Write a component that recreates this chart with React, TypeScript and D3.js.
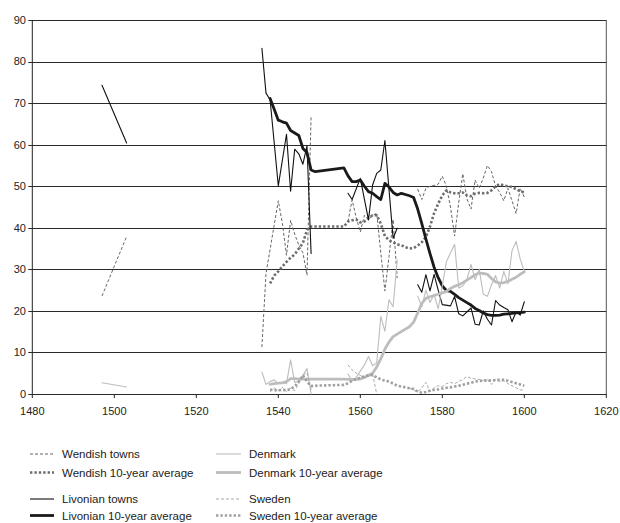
import React from 'react';
import * as d3 from 'd3';

type Pt = [number, number];

const xTicks = [1480, 1500, 1520, 1540, 1560, 1580, 1600, 1620];
const yTicks = [0, 10, 20, 30, 40, 50, 60, 70, 80, 90];

const wendishTowns: Pt[][] = [
  [[1497, 23.6], [1503, 37.9]],
  [[1536, 11.3], [1537, 29], [1540, 46.5], [1541, 41], [1542, 33.4], [1543, 41.8], [1544, 38.5], [1545, 35.8], [1546, 34], [1547, 28.6], [1548, 66.9]],
  [[1557, 41.5], [1558, 46.7], [1559, 42.5], [1560, 39], [1561, 43], [1562, 42], [1563, 43], [1564, 43.5], [1565, 34], [1566, 24.8], [1567, 33], [1568, 42], [1569, 27.9]],
  [[1574, 49.3], [1575, 46.8], [1576, 49.5], [1577, 50], [1578, 50.2], [1579, 50.5], [1580, 52.4], [1581, 50], [1582, 45], [1583, 38], [1584, 46], [1585, 53], [1586, 47], [1587, 44.5], [1588, 51.5], [1589, 49.5], [1590, 52], [1591, 55], [1592, 53.5], [1593, 50], [1594, 48.5], [1595, 46.5], [1596, 49.5], [1597, 46.5], [1598, 43.4], [1599, 49.5], [1600, 47.4]],
];

const wendishAvg: Pt[][] = [
  [[1538, 26.6], [1539, 28.5], [1540, 29.5], [1541, 30.7], [1542, 31.8], [1543, 32.8], [1544, 33.6], [1545, 35], [1546, 36.3], [1547, 39.5], [1548, 40.3], [1549, 40.3], [1556, 40.3], [1557, 41.5], [1558, 41.8], [1559, 42], [1560, 41.3], [1561, 41.5], [1562, 42.3], [1563, 43], [1564, 43], [1565, 41], [1566, 38], [1567, 37], [1568, 36.5], [1569, 36], [1570, 35.8], [1571, 35.3], [1572, 35], [1573, 35.1], [1574, 35.7], [1575, 36.5], [1576, 37.8], [1577, 40.3], [1578, 43.5], [1579, 45.8], [1580, 47.8], [1581, 49], [1582, 48.5], [1583, 48.3], [1584, 48.3], [1585, 48.5], [1586, 47.8], [1587, 47.6], [1588, 48.2], [1589, 48.4], [1590, 48.3], [1591, 48.4], [1592, 49], [1593, 50], [1594, 50.5], [1595, 50.2], [1596, 50], [1597, 49.8], [1598, 49.3], [1599, 48.8], [1600, 48.5]],
];

const livonianTowns: Pt[][] = [
  [[1497, 74.3], [1503, 60.4]],
  [[1536, 83.2], [1537, 72.4], [1538, 70.8], [1540, 50.1], [1542, 62.5], [1543, 48.8], [1544, 58.9], [1545, 57.8], [1546, 55.3], [1547, 59.7], [1548, 33.8]],
  [[1557, 48.3], [1558, 46.8], [1560, 51.9], [1562, 41.9], [1563, 50.3], [1564, 53.1], [1565, 53.9], [1566, 61], [1568, 37.5], [1569, 39.9]],
  [[1574, 26.3], [1575, 24.5], [1576, 28.7], [1577, 24.8], [1578, 28.8], [1579, 25], [1580, 21.5], [1582, 21.2], [1583, 23.5], [1584, 19.3], [1585, 18.8], [1587, 20.7], [1588, 16.8], [1589, 16.6], [1590, 20], [1591, 18], [1592, 16.6], [1593, 22.5], [1594, 21.4], [1595, 20.8], [1596, 20.3], [1597, 17.4], [1598, 19.8], [1599, 19], [1600, 22.2]],
];

const livonianAvg: Pt[][] = [
  [[1538, 71.1], [1539, 68.5], [1540, 65.9], [1541, 65.5], [1542, 65.2], [1543, 63.4], [1544, 62.8], [1545, 62.2], [1546, 59.1], [1547, 58.1], [1548, 53.9], [1549, 53.5], [1556, 54.4], [1557, 52.5], [1558, 51.1], [1559, 51.1], [1560, 51.5], [1561, 50], [1562, 48.7], [1563, 48.3], [1564, 47.5], [1565, 46.8], [1566, 50.7], [1567, 49.8], [1568, 48.5], [1569, 47.9], [1570, 48.3], [1571, 48], [1572, 47.7], [1573, 47.3], [1574, 44.5], [1575, 41], [1576, 37.3], [1577, 33.8], [1578, 30.5], [1579, 28], [1580, 26], [1581, 24.9], [1582, 24.7], [1583, 24], [1584, 23.2], [1585, 22.6], [1586, 22], [1587, 21.4], [1588, 20.6], [1589, 20.1], [1590, 19.5], [1591, 19.1], [1592, 18.9], [1593, 18.9], [1594, 19], [1595, 19.2], [1596, 19.3], [1597, 19.4], [1598, 19.5], [1599, 19.6], [1600, 19.7]],
];

const denmark: Pt[][] = [
  [[1497, 2.7], [1503, 1.7]],
  [[1536, 5.3], [1537, 2.3], [1538, 3], [1539, 3.4], [1540, 2.5], [1541, 2.8], [1542, 2.5], [1543, 8.2], [1544, 2.8], [1545, 3], [1546, 4.5], [1547, 6.1], [1548, 0]],
  [[1557, 4.8], [1558, 3.1], [1559, 4], [1560, 5.5], [1561, 7], [1562, 9], [1563, 6.8], [1564, 7.5], [1565, 18.7], [1566, 15.1], [1567, 22.7], [1568, 21], [1569, 32.3]],
  [[1574, 23.5], [1575, 21], [1576, 25], [1577, 22], [1578, 24], [1579, 20.5], [1580, 26], [1581, 31.8], [1582, 34], [1583, 36], [1584, 25.5], [1585, 26], [1586, 27.5], [1587, 31.2], [1588, 27.5], [1589, 30], [1590, 24], [1591, 23.5], [1592, 26.3], [1593, 28.5], [1594, 25.5], [1595, 29.5], [1596, 26.5], [1597, 34.5], [1598, 36.7], [1599, 32.5], [1600, 29.5]],
];

const denmarkAvg: Pt[][] = [
  [[1538, 2.3], [1539, 2.5], [1540, 2.6], [1541, 2.7], [1542, 3], [1543, 3.7], [1544, 3.7], [1545, 3.6], [1546, 3.6], [1547, 3.6], [1548, 3.6], [1549, 3.6], [1556, 3.6], [1557, 3.5], [1558, 3.5], [1559, 3.5], [1560, 3.6], [1561, 4], [1562, 4.5], [1563, 5], [1564, 6.5], [1565, 8.5], [1566, 10.8], [1567, 12.5], [1568, 13.8], [1569, 14.4], [1570, 15], [1571, 15.6], [1572, 16.2], [1573, 17.3], [1574, 19.5], [1575, 21.8], [1576, 23], [1577, 23.4], [1578, 23.7], [1579, 24], [1580, 24.3], [1581, 24.7], [1582, 25.4], [1583, 25.9], [1584, 26.3], [1585, 26.8], [1586, 27.4], [1587, 28], [1588, 28.7], [1589, 29.1], [1590, 29], [1591, 28.8], [1592, 27.8], [1593, 27], [1594, 26.7], [1595, 26.8], [1596, 27.1], [1597, 27.6], [1598, 28.1], [1599, 28.8], [1600, 29.4]],
];

const sweden: Pt[][] = [
  [[1538, 0.5], [1539, 1.5], [1540, 0.8], [1541, 1.6], [1542, 0.6], [1543, 1.4], [1544, 0.8], [1545, 2.5], [1546, 4.5], [1547, 5.2], [1548, 1]],
  [[1557, 7], [1558, 5.8], [1559, 5], [1560, 4.5], [1561, 4], [1562, 4.2], [1563, 4.8], [1564, 0]],
  [[1572, 1.4], [1573, 1], [1574, 0.5], [1575, 1.5], [1576, 2.8], [1577, 0.6], [1578, 1.5], [1579, 2], [1580, 1.8], [1581, 2.5], [1582, 2.8], [1583, 2.5], [1584, 3], [1585, 3.5], [1586, 4.2], [1587, 3.8], [1588, 3.6], [1589, 3.5], [1590, 3.3], [1591, 3.5], [1592, 2.3], [1593, 3.5], [1594, 3], [1595, 3.2], [1596, 2.5], [1597, 2], [1598, 1.5], [1599, 1], [1600, 0.9]],
];

const swedenAvg: Pt[][] = [
  [[1538, 1.1], [1539, 0.9], [1540, 0.9], [1541, 1], [1542, 0.9], [1543, 1.2], [1544, 1.8], [1545, 3], [1546, 4.5], [1547, 3], [1548, 1.9], [1549, 2], [1556, 2.2], [1557, 2.6], [1558, 3.2], [1559, 3.6], [1560, 3.9], [1561, 4.2], [1562, 4.5], [1563, 4.6], [1564, 4], [1565, 3.5], [1566, 3.2], [1567, 3], [1568, 2.5], [1569, 2], [1570, 1.8], [1571, 1.6], [1572, 1.4], [1573, 1.2], [1574, 0.6], [1575, 0.3], [1576, 0.5], [1577, 0.8], [1578, 1], [1579, 1.1], [1580, 1.3], [1581, 1.5], [1582, 1.6], [1583, 1.8], [1584, 2], [1585, 2.2], [1586, 2.5], [1587, 2.7], [1588, 3], [1589, 3.1], [1590, 3.2], [1591, 3.3], [1592, 3.2], [1593, 3.4], [1594, 3.4], [1595, 3.4], [1596, 3.2], [1597, 2.9], [1598, 2.6], [1599, 2.3], [1600, 2]],
];

const seriesNames = [
  'Wendish towns', 'Wendish 10-year average', 'Livonian towns', 'Livonian 10-year average',
  'Denmark', 'Denmark 10-year average', 'Sweden', 'Sweden 10-year average',
];

type Style = { stroke: string; width: number; dash?: string };

const styles: Style[] = [
  { stroke: '#666', width: 1, dash: '3,2' },
  { stroke: '#6e6e6e', width: 2.6, dash: '2.4,2' },
  { stroke: '#111', width: 1.1 },
  { stroke: '#1a1a1a', width: 2.8 },
  { stroke: '#bdbdbd', width: 1.1 },
  { stroke: '#bdbdbd', width: 2.8 },
  { stroke: '#a8a8a8', width: 1, dash: '3,2' },
  { stroke: '#a0a0a0', width: 2.6, dash: '2.4,2' },
];

const seriesData = [wendishTowns, wendishAvg, livonianTowns, livonianAvg, denmark, denmarkAvg, sweden, swedenAvg];

const W = 620;
const H = 523;
const FONT = 'Liberation Sans, Arial, Helvetica, sans-serif';

export default function App() {
  const x = d3.scaleLinear().domain([1480, 1620]).range([32.3, 606.3]);
  const y = d3.scaleLinear().domain([0, 90]).range([394, 20]);
  const line = d3.line<Pt>().x((d) => x(d[0])).y((d) => y(d[1]));

  const legendRows = [454, 472.5, 499, 515.5];
  const legendCols = [{ x0: 30, x1: 54, tx: 62 }, { x0: 216, x1: 241, tx: 249 }];
  const legendPos = [
    { c: 0, r: 0 }, { c: 0, r: 1 }, { c: 0, r: 2 }, { c: 0, r: 3 },
    { c: 1, r: 0 }, { c: 1, r: 1 }, { c: 1, r: 2 }, { c: 1, r: 3 },
  ];

  const left = x(1480);
  const right = x(1620);

  return (
    <svg width={W} height={H} style={{ position: 'absolute', left: 0, top: 0, background: '#fff' }} fontFamily={FONT}>
      <rect x={0} y={0} width={W} height={H} fill="#fff" />
      {yTicks.map((t) => (
        <line key={'g' + t} x1={left - 4} x2={right} y1={Math.round(y(t)) + 0.5} y2={Math.round(y(t)) + 0.5} stroke="#2a2a2a" strokeWidth={1} />
      ))}
      <line x1={right} x2={right} y1={y(90)} y2={y(0)} stroke="#555" strokeWidth={1} />
      <line x1={left} x2={left} y1={y(90)} y2={y(0)} stroke="#222" strokeWidth={1} />
      {xTicks.map((t) => (
        <line key={'xt' + t} x1={x(t)} x2={x(t)} y1={y(0)} y2={y(0) + 4} stroke="#222" strokeWidth={1} />
      ))}
      {yTicks.map((t) => (
        <text key={'yl' + t} x={26} y={y(t)} dy="0.35em" textAnchor="end" fontSize={11} fill="#222">{t}</text>
      ))}
      {xTicks.map((t) => (
        <text key={'xl' + t} x={x(t)} y={411} dy="0.35em" textAnchor="middle" fontSize={11} fill="#222">{t}</text>
      ))}
      {seriesData.map((segs, i) => (
        <g key={'s' + i}>
          {segs.map((seg, j) => (
            <path
              key={j}
              d={line(seg) || ''}
              fill="none"
              stroke={styles[i].stroke}
              strokeWidth={styles[i].width}
              strokeDasharray={styles[i].dash}
              strokeLinejoin="round"
              strokeLinecap={styles[i].dash ? 'butt' : 'round'}
            />
          ))}
        </g>
      ))}
      {seriesNames.map((name, i) => {
        const p = legendPos[i];
        const col = legendCols[p.c];
        const yy = legendRows[p.r];
        return (
          <g key={'lg' + i}>
            <line x1={col.x0} x2={col.x1} y1={yy} y2={yy} stroke={styles[i].stroke} strokeWidth={styles[i].width} strokeDasharray={styles[i].dash} />
            <text x={col.tx} y={yy} dy="0.35em" fontSize={11.5} fill="#222">{name}</text>
          </g>
        );
      })}
    </svg>
  );
}
